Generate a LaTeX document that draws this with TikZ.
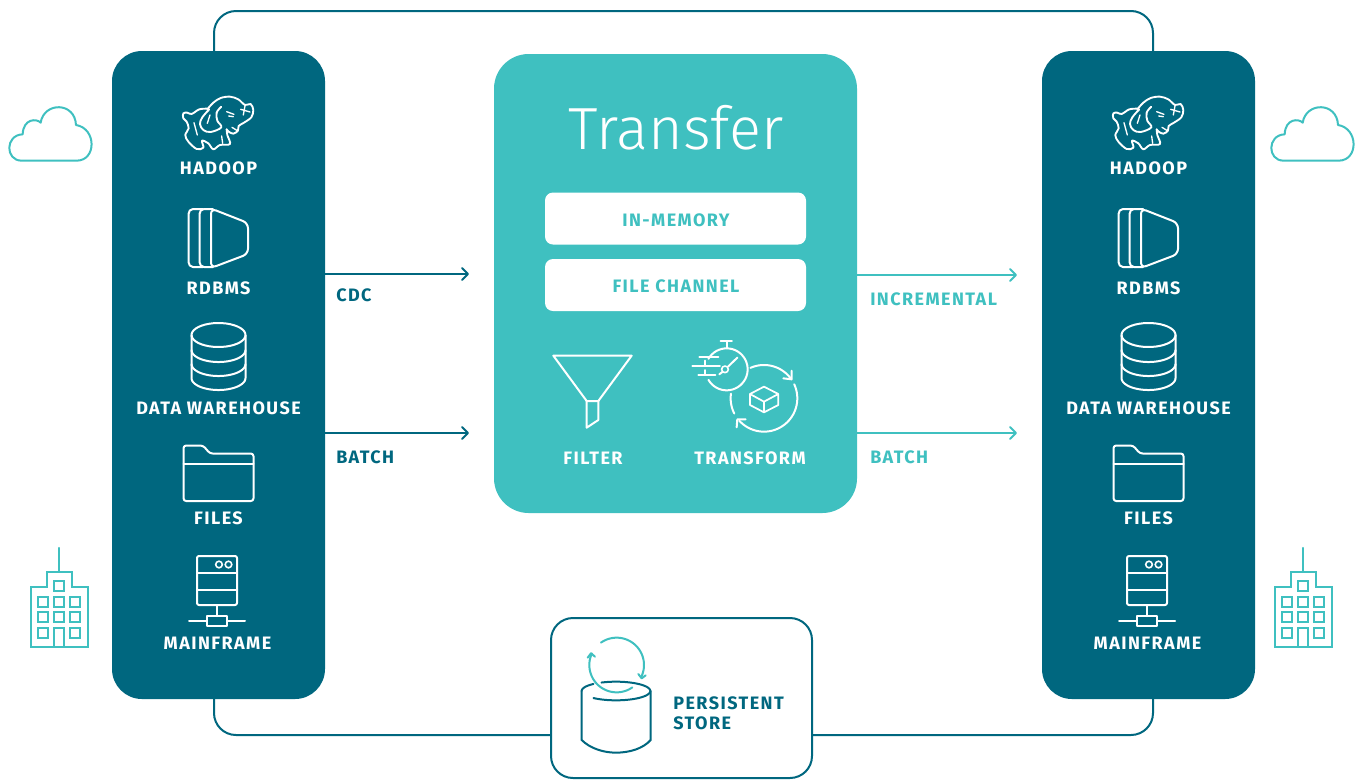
\documentclass[tikz,border=0pt]{standalone}
\usepackage{fontspec}
\usetikzlibrary{arrows.meta}
\setmainfont{Fira Sans}
\newfontfamily\labfont[LetterSpace=8]{Fira Sans}
\newfontfamily\thinfont{Fira Sans Light}
\definecolor{deep}{HTML}{00677F}
\definecolor{aqua}{HTML}{3FC0C0}
\tikzset{
  x=0.75pt,y=-0.75pt,
  panel/.style={fill=deep,draw=none,rounded corners=22.5pt,minimum width=159.75pt,minimum height=486pt,inner sep=0pt},
  hub/.style={fill=aqua,draw=none,rounded corners=26pt,minimum width=272.25pt,minimum height=344.25pt,inner sep=0pt},
  chip/.style={fill=white,draw=none,rounded corners=6pt,minimum width=195.75pt,minimum height=39pt,inner sep=0pt},
  storebox/.style={fill=white,draw=deep,line width=1.5pt,rounded corners=16.5pt,minimum width=195.75pt,minimum height=120pt,inner sep=0pt},
  lab/.style={inner sep=0pt,font=\labfont\bfseries\fontsize{13.5}{16}\selectfont},
  wl/.style={text=white},
  ico/.style={draw=white,line width=1.5pt,line join=round,line cap=round},
  link/.style={draw=deep,line width=1.5pt,rounded corners=16.5pt},
  arrd/.style={draw=deep,line width=1.5pt,-{Straight Barb[length=4.5pt,width=9pt,round]}},
  arra/.style={draw=aqua,line width=1.5pt,-{Straight Barb[length=4.5pt,width=9pt,round]}},
  aq/.style={draw=aqua,line width=1.5pt,line join=round,line cap=round},
}
\newcommand\pxarc[6]{plot[smooth,domain=#5:#6,samples=40] ({#1+#3*cos(\x)},{#2-#4*sin(\x)})}
\newcommand\iconset[1]{%
 \begin{scope}[shift={(#1,0)}]
  % elephant, traced in a 3x grid
  \begin{scope}[shift={(0,80)},scale=0.3333]
   \draw[ico,line width=1.4pt] plot[smooth,tension=0.55] coordinates {(622,88)(640,68)(662,54)(690,50)(715,58)(735,75)(752,72)(760,90)(754,112)(732,128)(716,138)(714,152)(700,161)(686,155)(680,148)};
   \draw[ico,line width=1.4pt] plot[smooth,tension=0.55] coordinates {(622,86)(598,88)(575,102)(562,98)(550,100)(550,115)(560,125)(566,145)(556,165)(565,185)(590,207)(610,203)(606,182)(625,190)(640,208)(660,195)(690,192)(682,165)(680,148)};
   \draw[ico,line width=1.4pt] plot[smooth,tension=0.6] coordinates {(628,88)(607,112)(600,132)(610,150)(632,156)(664,142)(652,122)(650,98)(664,80)};
   \draw[ico,line width=1pt] (680,95) -- (702,103) (686,108) -- (700,110) (722,88) -- (750,96) (735,78) -- (730,105);
   \draw[ico,line width=1pt] (630,105) -- (622,130);
   \draw[ico,line width=1pt] (696,142) -- (712,152);
   \draw[ico,line width=1pt] (582,128) -- (592,165) (665,168) -- (668,190);
  \end{scope}
  % rdbms
  \draw[ico] (203,209) -- (193,209) to[out=180,in=90] (188.5,214) -- (188.5,262) to[out=270,in=180] (193,267) -- (203,267);
  \draw[ico] (213,209) -- (204,209) to[out=180,in=90] (199.5,214) -- (199.5,262) to[out=270,in=180] (204,267) -- (213,267);
  \draw[ico,rounded corners=4pt] (211,208.5) -- (248,223) -- (248,254) -- (211,268) -- cycle;
  % warehouse
  \draw[ico] \pxarc{218.5}{335}{27}{12}{0}{360};
  \draw[ico] (191.5,335) -- (191.5,378) \pxarc{218.5}{378}{27}{12}{180}{360} -- (245.5,335);
  \draw[ico] \pxarc{218.5}{350}{27}{12}{180}{360};
  \draw[ico] \pxarc{218.5}{364}{27}{12}{180}{360};
  % files
  \draw[ico,rounded corners=2pt] (183.5,445.5) -- (203,445.5) -- (210,453.5) -- (253.5,453.5) -- (253.5,501) -- (183.5,501) -- cycle;
  \draw[ico] (183.5,463.5) -- (253.5,463.5);
  % mainframe
  \draw[ico,rounded corners=1.5pt] (197,556) rectangle (237,605);
  \draw[ico] (197,573) -- (237,573) (197,589.5) -- (237,589.5);
  \draw[ico,line width=1.2pt] (219,564.5) circle[radius=3.3] (228.5,564.5) circle[radius=3.3];
  \draw[ico] (217,605) -- (217,616);
  \draw[ico] (207,616) rectangle (227,626);
  \draw[ico] (189,621) -- (207,621) (227,621) -- (245,621);
 \end{scope}}
\newcommand\cloudico[1]{%
 \begin{scope}[shift={(#1,80)},scale=0.3333]
  \draw[aq] (230,242) -- (65,242) .. controls (15,242) and (15,165) .. (68,163) .. controls (70,115) and (110,115) .. (122,128) .. controls (132,65) and (225,65) .. (228,135) .. controls (290,145) and (290,242) .. (230,242);
 \end{scope}}
\newcommand\buildingico[1]{%
 \begin{scope}[shift={(#1,310)},scale=0.3333]
  \draw[aq] (177,714) -- (177,786);
  \draw[aq,line join=miter] (92,1010) -- (92,830) -- (140,830) -- (140,786) -- (215,786) -- (215,830) -- (263,830) -- (263,1010) -- cycle;
  \foreach \c/\r in {163/812,115/860,163/860,210/860,115/906,163/906,210/906,115/953,210/953}{
   \draw[aq,line join=miter] (\c,\r) rectangle ++(30,30);}
  \draw[aq,line join=miter] (163,1010) -- (163,953) -- (193,953) -- (193,1010);
 \end{scope}}
\begin{document}
\begin{tikzpicture}
\useasboundingbox (0,0) rectangle (1358,779);
\node[panel] (L) at (218.5,375) {};
\node[panel] (R) at (1148.5,375) {};
\node[hub] (H) at (675.5,283.5) {};
\node[chip] (memb) at (675.5,218.5) {};
\node[chip] (chanb) at (675.5,285) {};
\node[lab,text=aqua] (mem) at (676,220.5) {IN-MEMORY};
\node[lab,text=aqua] (chan) at (676,286.5) {FILE CHANNEL};
\node[storebox] (S) at (681.5,698) {};
\coordinate (ltopc) at (214,51);
\coordinate (rtopc) at (1153,51);
\coordinate (topy) at (214,11);
\coordinate (lbot) at (214,699);
\coordinate (rbot) at (1153,699);
\coordinate (boty) at (214,735);
\coordinate (cdcend) at (469,274);
\coordinate (lbatchend) at (469,433);
\coordinate (incend) at (1017,275);
\coordinate (rbatchend) at (1017,433);
\draw[link] (ltopc) -- (topy) -- (rtopc |- topy) -- (rtopc);
\draw[link] (lbot) -- (boty) -- (S.west |- boty);
\draw[link] (S.east |- boty) -- (rbot |- boty) -- (rbot);
\draw[arrd] (L.east |- cdcend) -- (cdcend);
\draw[arrd] (L.east |- lbatchend) -- (lbatchend);
\draw[arra] (H.east |- incend) -- (incend);
\draw[arra] (H.east |- rbatchend) -- (rbatchend);
\node[lab,wl] (l1) at (218.5,168.5) {HADOOP};
\node[lab,wl] (l2) at (218.5,288.5) {RDBMS};
\node[lab,wl] (l3) at (218.5,408.5) {DATA WAREHOUSE};
\node[lab,wl] (l4) at (218.5,518.5) {FILES};
\node[lab,wl] (l5) at (217.5,643) {MAINFRAME};
\node[lab,wl] (r1) at (1148.5,168.5) {HADOOP};
\node[lab,wl] (r2) at (1148.5,288.5) {RDBMS};
\node[lab,wl] (r3) at (1148.5,408.5) {DATA WAREHOUSE};
\node[lab,wl] (r4) at (1148.5,518.5) {FILES};
\node[lab,wl] (r5) at (1147.5,643) {MAINFRAME};
\iconset{0}
\iconset{930}
\cloudico{0}
\cloudico{1262}
\buildingico{0}
\buildingico{1244}
\node[lab,text=deep,anchor=west] (cdc) at (336,295.5) {CDC};
\node[lab,text=deep,anchor=west] (batl) at (336,457) {BATCH};
\node[lab,text=aqua,anchor=west] (inc) at (870,299) {INCREMENTAL};
\node[lab,text=aqua,anchor=west] (batr) at (870,457) {BATCH};
\node[inner sep=0pt,text=white,font=\thinfont\fontsize{44.6}{50}\selectfont] (title) at (676,128) {Transfer};
\node[lab,wl] (filt) at (593,458) {FILTER};
\node[lab,wl] (tran) at (750,458) {TRANSFORM};
\begin{scope}[shift={(530,330)},scale=0.3333]
 \draw[ico] (70,77) -- (305,77) -- (205,213) -- (170,213) -- cycle;
 \draw[ico] (170,213) -- (170,293) -- (205,270) -- (205,213);
 \draw[ico] \pxarc{590}{118}{63}{63}{-150}{150};
 \draw[ico] (590,55) -- (590,35) (572,33) -- (606,33);
 \draw[ico] (508,80) -- (565,80) (487,108) -- (570,108) (505,135) -- (556,135);
 \draw[ico] (526,92) -- (526,108) (526,120) -- (526,135);
 \draw[ico,line width=1.2pt] (585,118) circle[radius=10];
 \draw[ico] (594,110) -- (622,83) (568,133) -- (577,126);
 \draw[ico] \pxarc{702}{205}{100}{100}{114}{35};
 \draw[ico] (760,145) -- (785,148) -- (785,122);
 \draw[ico] \pxarc{702}{205}{100}{100}{25}{-138};
 \draw[ico] (620,292) -- (622,268) -- (647,268);
 \draw[ico] \pxarc{702}{205}{100}{100}{172}{207};
 \draw[ico,line width=1.3pt] (702,170) -- (745,192) -- (745,225) -- (702,247) -- (660,225) -- (660,192) -- cycle (660,192) -- (702,215) -- (745,192) (702,215) -- (702,247);
\end{scope}
\begin{scope}[shift={(540,610)},scale=0.3333]
 \draw[aq] \pxarc{230}{165}{82}{82}{125}{-26};
 \draw[aq] (295,192) -- (305,205) -- (317,196);
 \draw[aq] \pxarc{230}{165}{82}{82}{-55}{-205};
 \draw[aq] (143,143) -- (153,130) -- (165,140);
 \draw[draw=deep,line width=1.5pt,line cap=round] \pxarc{228}{243}{103}{28}{115}{-131};
 \draw[draw=deep,line width=1.5pt,line cap=round] \pxarc{228}{243}{103}{28}{131}{180};
 \draw[draw=deep,line width=1.5pt,line cap=round] (125,243) -- (125,390) .. controls (150,415) and (190,428) .. (228,428) .. controls (270,428) and (310,415) .. (332,390) -- (332,243);
\end{scope}
\node[lab,text=deep,anchor=west] (p1) at (673,703) {PERSISTENT};
\node[lab,text=deep,anchor=west] (p2) at (673,723) {STORE};
\end{tikzpicture}
\end{document}
